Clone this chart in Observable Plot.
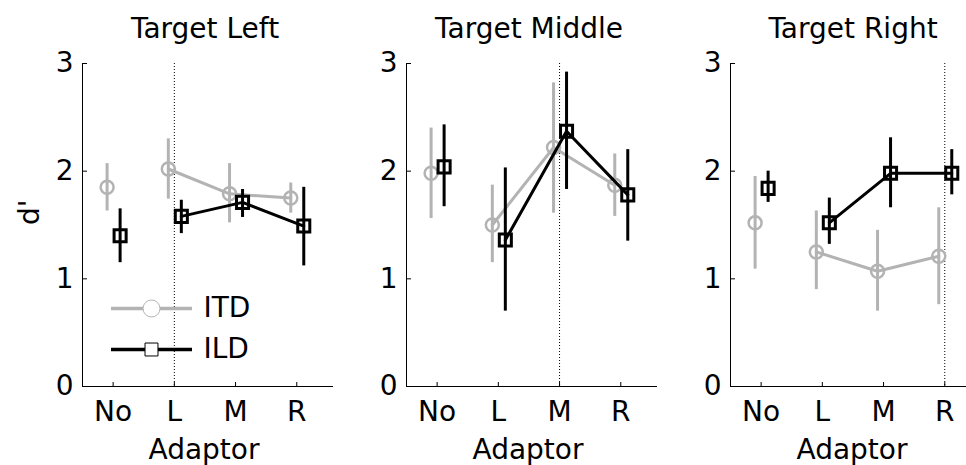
<!DOCTYPE html>
<html>
<head>
<meta charset="utf-8">
<script src="https://cdn.jsdelivr.net/npm/d3@7"></script>
<script src="https://cdn.jsdelivr.net/npm/@observablehq/plot@0.6"></script>
<style>
  html, body { margin: 0; padding: 0; background: #fff; }
  #figure { position: relative; width: 966px; height: 465px; overflow: hidden; }
  #figure svg { position: absolute; top: 0; }
</style>
</head>
<body>
<div id="figure"></div>
<script>
// Sensitivity (d') by adaptor position, for three target positions.
const panels = ["Target Left", "Target Middle", "Target Right"];
const targetAdaptor = ["L", "M", "R"];
const adaptors = ["No", "L", "M", "R"];
const yTicks = [0, 1, 2, 3];

// ITD adaptation: mean d' and error-bar limits, one row per panel
const itdMean = [
  [1.85, 2.02, 1.79, 1.75],
  [1.98, 1.50, 2.22, 1.87],
  [1.52, 1.25, 1.07, 1.21]
];
const itdLow = [
  [1.63, 1.74, 1.52, 1.61],
  [1.56, 1.15, 1.61, 1.58],
  [1.09, 0.90, 0.70, 0.76]
];
const itdHigh = [
  [2.07, 2.30, 2.07, 1.89],
  [2.40, 1.87, 2.82, 2.16],
  [1.95, 1.63, 1.45, 1.66]
];

// ILD adaptation
const ildMean = [
  [1.40, 1.58, 1.71, 1.49],
  [2.04, 1.36, 2.37, 1.78],
  [1.84, 1.52, 1.98, 1.98]
];
const ildLow = [
  [1.15, 1.42, 1.57, 1.12],
  [1.67, 0.70, 1.83, 1.35],
  [1.71, 1.32, 1.66, 1.78]
];
const ildHigh = [
  [1.65, 1.73, 1.83, 1.85],
  [2.43, 2.03, 2.92, 2.20],
  [2.00, 1.75, 2.31, 2.20]
];

const seriesNames = ["ITD", "ILD"];

const xDomain = [0.5, 4.6];
const gray = "#b3b3b3";
const font = "DejaVu Sans";
const fs = 28;

// horizontal stroke used for the legend swatches
const hline = {
  draw(context, size) {
    const r = Math.sqrt(size / Math.PI);
    context.moveTo(-r, 0);
    context.lineTo(r, 0);
  }
};

function rows(p, mean, low, high, series) {
  return adaptors.map((a, i) => ({
    series, adaptor: a, pos: i + 1,
    mean: mean[p][i], low: low[p][i], high: high[p][i]
  }));
}

function seriesMarks(data, {stroke, symbol, r, markerWidth, lineWidth, dx}) {
  const adapted = data.filter(d => d.adaptor !== "No");
  return [
    Plot.ruleX(data, {x: "pos", y1: "low", y2: "high", stroke, strokeWidth: 3, dx}),
    Plot.line(adapted, {x: "pos", y: "mean", stroke, strokeWidth: lineWidth, dx}),
    Plot.dot(data, {x: "pos", y: "mean", symbol, r, stroke, strokeWidth: markerWidth, fill: "none", dx})
  ];
}

function legendMarks() {
  const entries = [
    {name: seriesNames[0], stroke: gray, symbol: "circle", r: 8.5, dy: -78},
    {name: seriesNames[1], stroke: "black", symbol: "square", r: 7.3, dy: -37}
  ];
  return entries.flatMap(e => [
    Plot.dot([e.name], {frameAnchor: "bottom-left", dx: 69, dy: e.dy, symbol: hline, r: 40.5, stroke: e.stroke, strokeWidth: 3.5}),
    Plot.dot([e.name], {frameAnchor: "bottom-left", dx: 69, dy: e.dy, symbol: e.symbol, r: e.r, stroke: e.stroke, strokeWidth: 1, fill: "white"}),
    Plot.text([e.name], {text: d => d, frameAnchor: "bottom-left", dx: 121, dy: e.dy, textAnchor: "start", lineAnchor: "middle", fontSize: fs, fill: "black"})
  ]);
}

function panel(p) {
  const itd = rows(p, itdMean, itdLow, itdHigh, seriesNames[0]);
  const ild = rows(p, ildMean, ildLow, ildHigh, seriesNames[1]);
  const targetPos = adaptors.indexOf(targetAdaptor[p]) + 1;

  const marks = [
    Plot.ruleX([targetPos], {stroke: "black", strokeWidth: 1, strokeDasharray: "1,2"}),
    Plot.ruleY([0], {stroke: "black", strokeWidth: 1}),
    Plot.ruleX([xDomain[0]], {stroke: "black", strokeWidth: 1}),
    Plot.axisY({ticks: yTicks, tickSize: -5, tickPadding: 14, fontSize: fs, label: null, tickFormat: d3.format("d")}),
    Plot.axisX({ticks: [1, 2, 3, 4], tickFormat: i => adaptors[i - 1], tickSize: -4, tickPadding: 19, fontSize: fs, label: null}),
    Plot.text([panels[p]], {text: d => d, frameAnchor: "top", dx: -3, dy: -26, lineAnchor: "bottom", fontSize: fs}),
    Plot.text(["Adaptor"], {text: d => d, frameAnchor: "bottom", dx: -4, dy: 72, lineAnchor: "bottom", fontSize: fs}),
    ...seriesMarks(itd, {stroke: gray, symbol: "circle", r: 6.5, markerWidth: 2.5, lineWidth: 3, dx: -6}),
    ...seriesMarks(ild, {stroke: "black", symbol: "square", r: 6.8, markerWidth: 3, lineWidth: 3, dx: 7})
  ];
  if (p === 0) {
    marks.push(Plot.text(["d'"], {text: d => d, frameAnchor: "left", dx: -44, dy: 0, rotate: -90, lineAnchor: "bottom", fontSize: fs}));
    marks.push(...legendMarks());
  }

  return Plot.plot({
    width: 333,
    height: 465,
    marginLeft: 82,
    marginRight: 0,
    marginTop: 63,
    marginBottom: 79,
    style: {background: "transparent", fontFamily: font, fontSize: fs + "px", color: "black", overflow: "visible"},
    x: {type: "linear", domain: xDomain},
    y: {domain: [0, 3]},
    marks
  });
}

const fig = document.getElementById("figure");
panels.forEach((_, p) => {
  const svg = panel(p);
  svg.style.left = (p * 324) + "px";
  svg.style.maxWidth = "none";
  fig.appendChild(svg);
});
</script>
</body>
</html>
